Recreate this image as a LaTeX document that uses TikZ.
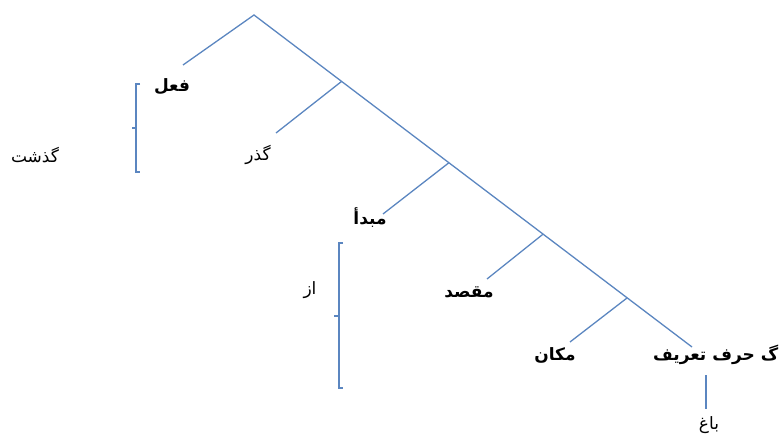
\documentclass[tikz,border=0pt]{standalone}
\usepackage{fontspec}
\usetikzlibrary{calc}
\TeXXeTstate=1
\newfontfamily\arabicfont[Script=Arabic]{DejaVu Sans}
\definecolor{B1}{HTML}{5B86C0}
\tikzset{
  branch/.style = {B1, line width=1.3pt},
  word/.style = {font=\arabicfont\fontsize{17}{20}\selectfont, inner sep=1pt},
  bword/.style = {font=\arabicfont\bfseries\fontsize{17}{20}\selectfont, inner sep=1pt},
}
\begin{document}
\begin{tikzpicture}[x=1pt,y=-1pt]
  \useasboundingbox (0,0) rectangle (781,438);
  % tree
  \coordinate (root) at (254,15);
  \coordinate (tip)  at (692,347);
  \coordinate (left) at (183,65);
  \coordinate (j1) at ($(root)!0.20!(tip)$);
  \coordinate (j2) at ($(root)!0.445!(tip)$);
  \coordinate (j3) at ($(root)!0.66!(tip)$);
  \coordinate (j4) at ($(root)!0.852!(tip)$);
  \coordinate (e1) at (276,133);
  \coordinate (e2) at (383,214);
  \coordinate (e3) at (487,279);
  \coordinate (e4) at (570,342);
  \draw[branch] (left) -- (root) -- (tip);
  \draw[branch] (j1) -- (e1);
  \draw[branch] (j2) -- (e2);
  \draw[branch] (j3) -- (e3);
  \draw[branch] (j4) -- (e4);
  % words
  \node[bword] (feel)   at (172,87)  {\beginR فعل\endR};
  \node[word]  (gozar)  at (258,155) {\beginR گذر\endR};
  \node[word]  (gozasht) at (35,155) {\beginR گذشت\endR};
  \node[bword] (mabda)  at (370,218) {\beginR مبدأ\endR};
  \node[word]  (az)     at (310,290) {\beginR از\endR};
  \node[bword] (maqsad) at (469,292) {\beginR مقصد\endR};
  \node[bword] (makan)  at (555,355) {\beginR مکان\endR};
  \node[bword,anchor=west] (harf) at (652,355) {\beginR گ حرف تعریف\endR};
  \node[word]  (bagh)   at (709,425) {\beginR باغ\endR};
  \coordinate (h) at (706,375);
  \draw[branch] (h) -- (706,409);
  % brackets
  \draw[branch] (140,84) -- (136,84) -- (136,172) -- (140,172);
  \draw[branch] (136,128) -- (132,128);
  \draw[branch] (343,243) -- (339,243) -- (339,388) -- (343,388);
  \draw[branch] (339,316) -- (334,316);
\end{tikzpicture}
\end{document}
